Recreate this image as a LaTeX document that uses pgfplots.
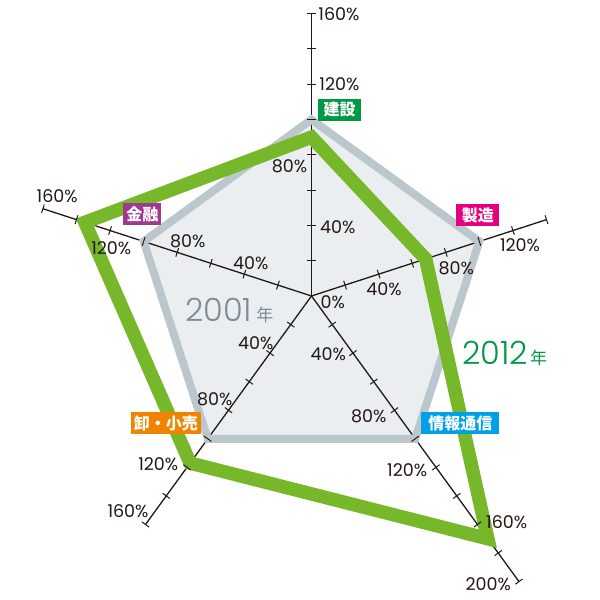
\documentclass[border=0pt]{standalone}
\usepackage{pgfplots}
\pgfplotsset{compat=1.18}
\usepackage{fontspec}
\setmainfont{Noto Sans CJK JP}
\newfontfamily\pop{Poppins}
\newfontfamily\poplight{Poppins Light}
\definecolor{spoke}{HTML}{231815}
\definecolor{grayline}{HTML}{BCC6CD}
\definecolor{grayfill}{HTML}{EAEEF1}
\definecolor{green12}{HTML}{76B82A}
\definecolor{cKen}{HTML}{009944}
\definecolor{cSei}{HTML}{E4007F}
\definecolor{cJou}{HTML}{00A0E9}
\definecolor{cOro}{HTML}{F08300}
\definecolor{cKin}{HTML}{A0398F}
\definecolor{t2001}{HTML}{7F8C95}
\definecolor{t2012}{HTML}{009944}
\begin{document}
\begin{tikzpicture}
\begin{axis}[x=1.765pt, y=1.765pt, xmin=-176.49, xmax=163.46, ymin=-172.24, ymax=167.71,
  hide axis, clip=false, scale only axis]
% 2001 fill
\addplot[draw=none, fill=grayfill, data cs=polar] coordinates {(90,100) (18,100) (-54,100) (-126,100) (162,100)} -- cycle;
% spokes
\addplot[spoke, line width=1.3pt, data cs=polar] coordinates {(90,0) (90,160)};
\addplot[spoke, line width=1.3pt, data cs=polar] coordinates {(18,0) (18,140)};
\addplot[spoke, line width=1.3pt, data cs=polar] coordinates {(-54,0) (-54,200)};
\addplot[spoke, line width=1.3pt, data cs=polar] coordinates {(-126,0) (-126,160)};
\addplot[spoke, line width=1.3pt, data cs=polar] coordinates {(162,0) (162,160)};
% ticks
\addplot[only marks, data cs=polar, mark=-, mark size=4.5pt, mark options={draw=spoke, line width=1pt, rotate=0}] coordinates {(90,20) (90,40) (90,60) (90,80) (90,100) (90,120) (90,140) (90,160)};
\addplot[only marks, data cs=polar, mark=-, mark size=4.5pt, mark options={draw=spoke, line width=1pt, rotate=-72}] coordinates {(18,20) (18,40) (18,60) (18,80) (18,100) (18,120) (18,140)};
\addplot[only marks, data cs=polar, mark=-, mark size=4.5pt, mark options={draw=spoke, line width=1pt, rotate=-144}] coordinates {(-54,20) (-54,40) (-54,60) (-54,80) (-54,100) (-54,120) (-54,140) (-54,160) (-54,180) (-54,200)};
\addplot[only marks, data cs=polar, mark=-, mark size=4.5pt, mark options={draw=spoke, line width=1pt, rotate=-216}] coordinates {(-126,20) (-126,40) (-126,60) (-126,80) (-126,100) (-126,120) (-126,140) (-126,160)};
\addplot[only marks, data cs=polar, mark=-, mark size=4.5pt, mark options={draw=spoke, line width=1pt, rotate=72}] coordinates {(162,20) (162,40) (162,60) (162,80) (162,100) (162,120) (162,140) (162,160)};
% 2001 outline
\addplot[draw=grayline, line width=8pt, line join=miter, data cs=polar] coordinates {(90,100) (18,100) (-54,100) (-126,100) (162,100)} -- cycle;
% 2012
\addplot[draw=green12, line width=13.5pt, line join=miter, data cs=polar] coordinates {(90,90) (18,68) (-54,170) (-126,117) (162,135)} -- cycle;
\coordinate (TL) at (axis cs:-176.49,167.71);
\coordinate (BR) at (axis cs:163.46,-172.24);
\end{axis}
\begin{scope}[shift={(TL)}, x=1pt, y=-1pt, every node/.style={inner sep=0pt, text=spoke}, font=\pop\fontsize{17.5}{18}\selectfont]
% top axis
\node[anchor=west] at (318.3,14) {160\%};
\node[anchor=west] at (319.3,84) {120\%};
\node[anchor=east] at (307.3,166.7) {80\%};
\node[anchor=west] at (320,227) {40\%};
\node[anchor=west] at (320.5,302) {0\%};
% seizo
\node at (384,289) {40\%};
\node at (456.3,268.3) {80\%};
\node at (520,245) {120\%};
% joho
\node at (328.3,354) {40\%};
\node at (368.8,416) {80\%};
\node at (407.2,470) {120\%};
\node at (506.7,521.7) {160\%};
\node at (488.3,584) {200\%};
% oroshi
\node at (255.8,343.3) {40\%};
\node at (214.8,399.3) {80\%};
\node at (158.3,464) {120\%};
\node at (128,511) {160\%};
% kinyu
\node at (250.8,262.7) {40\%};
\node at (187.8,241) {80\%};
\node at (111.3,247.7) {120\%};
\node at (57.2,196) {160\%};
% category boxes
\begin{scope}[every node/.style={text=white, font=\fontsize{16}{16}\selectfont\bfseries, minimum height=22pt, inner xsep=3pt, inner ysep=0pt}]
\node[fill=cKen, minimum width=43pt] at (339.7,110) {建設};
\node[fill=cSei, minimum width=43pt] at (478,215.3) {製造};
\node[fill=cJou, minimum width=78pt] at (460.5,423) {情報通信};
\node[fill=cOro, minimum width=70pt] at (166,423) {卸・小売};
\node[fill=cKin, minimum width=38pt] at (142.5,214) {金融};
\end{scope}
% year labels
\node[anchor=base west, text=t2001] at (185,322) {\poplight\fontsize{32}{32}\selectfont 2001\hspace{4pt}\rmfamily\fontsize{17}{17}\selectfont 年};
\node[anchor=base west, text=t2012] at (462.3,365) {\poplight\fontsize{32}{32}\selectfont 2012\hspace{2pt}\rmfamily\fontsize{17}{17}\selectfont 年};
\end{scope}
\pgfresetboundingbox
\path[use as bounding box] (TL) rectangle (BR);
\end{tikzpicture}
\end{document}
